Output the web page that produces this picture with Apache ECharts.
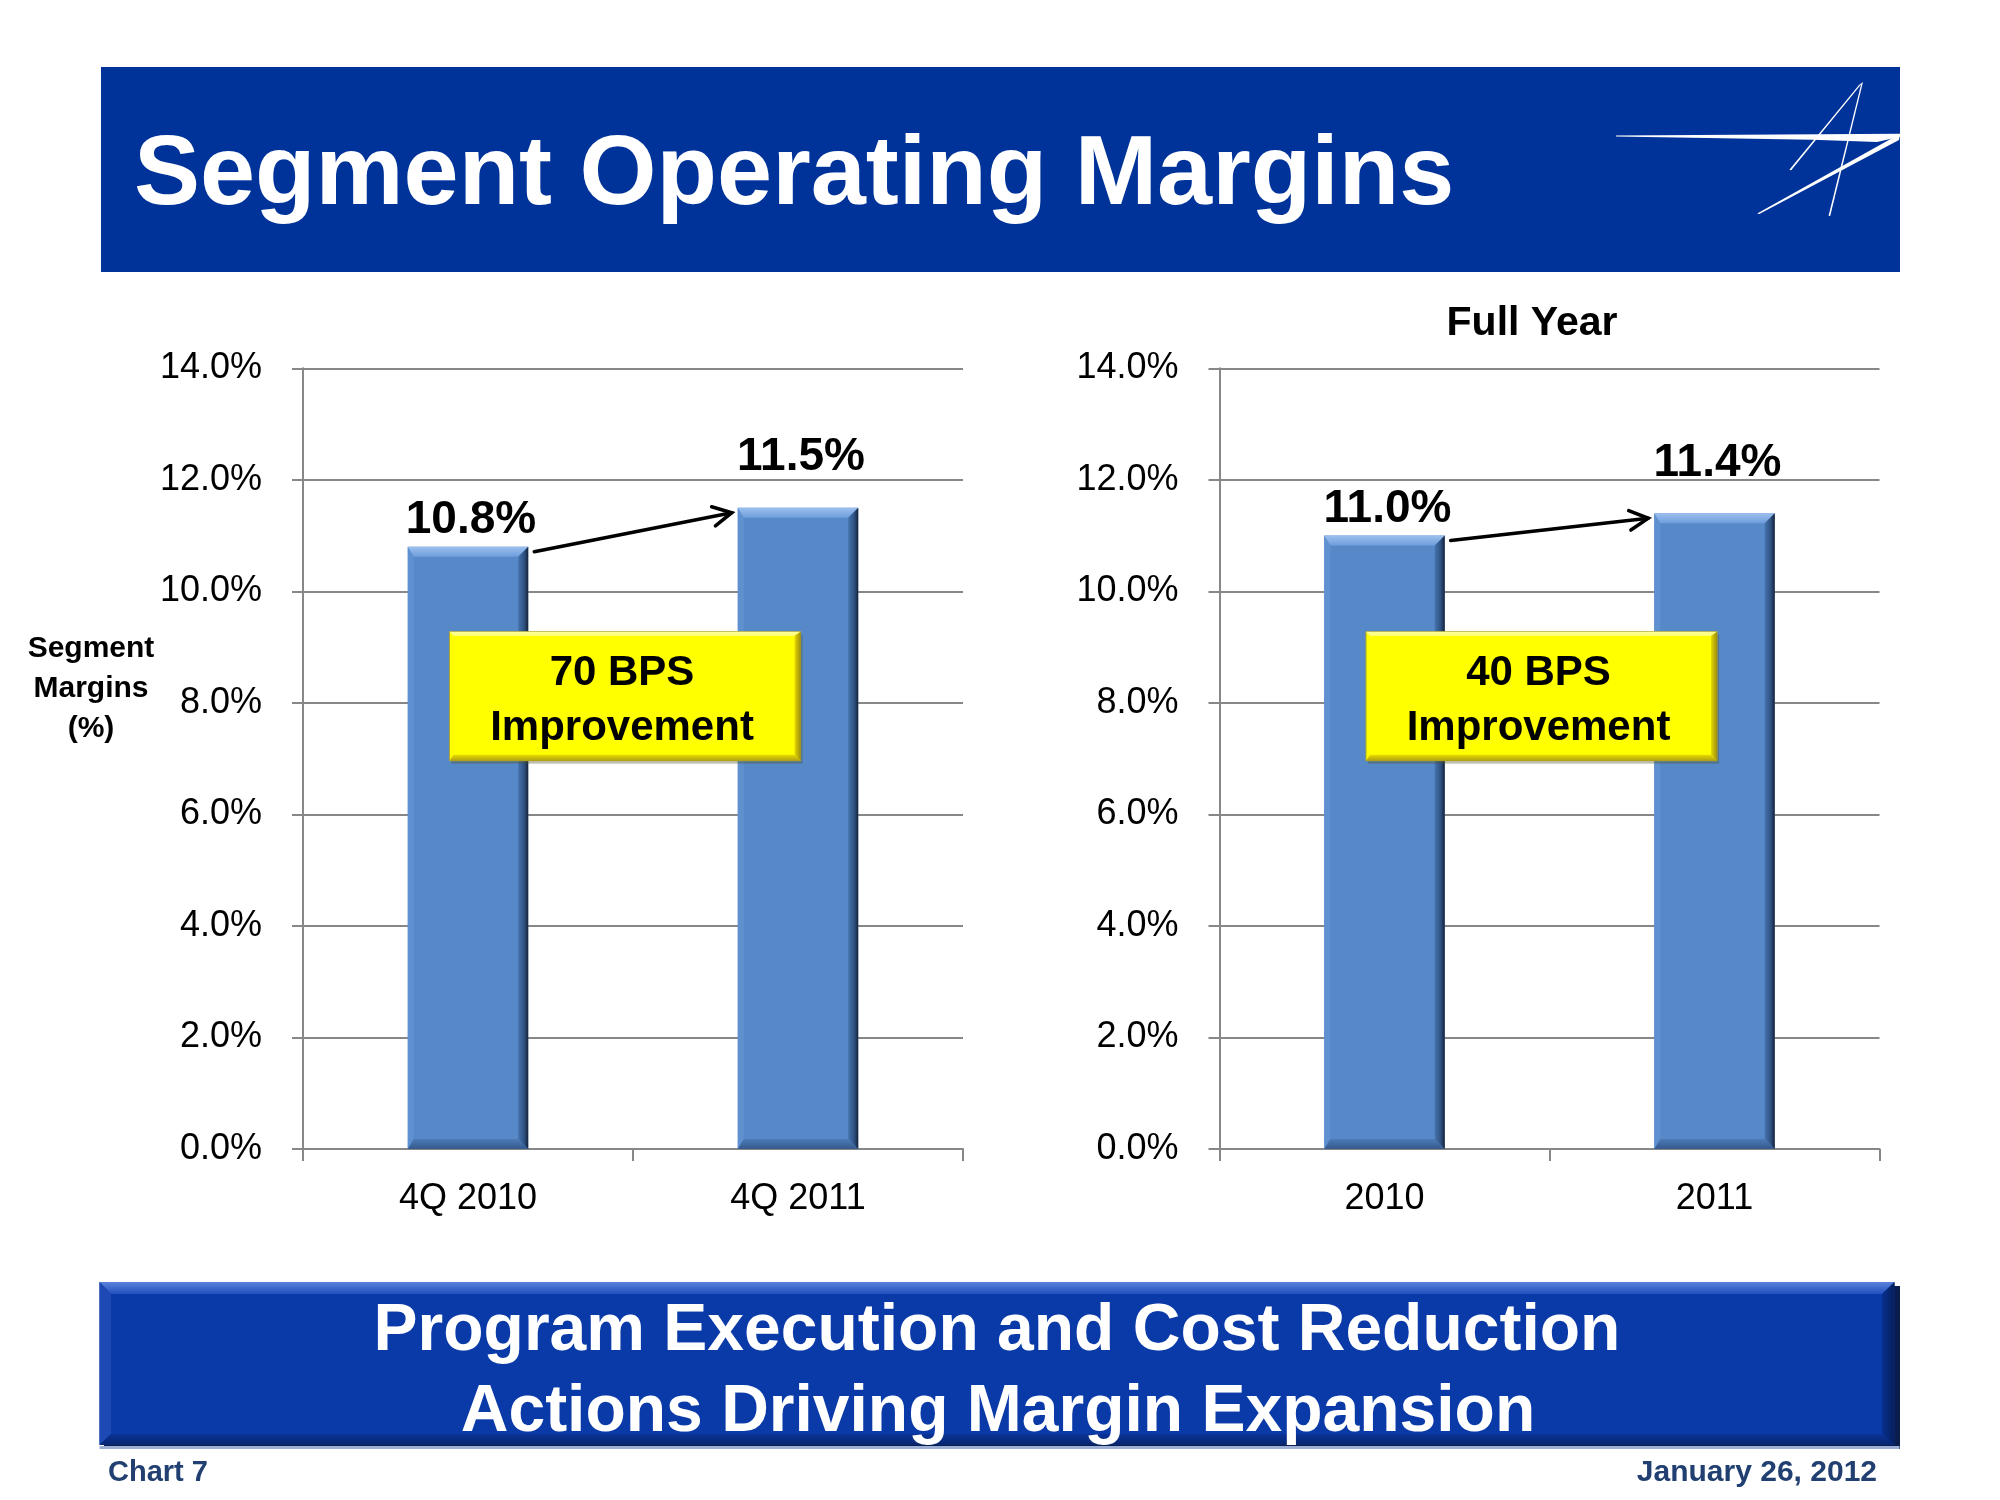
<!DOCTYPE html>
<html><head><meta charset="utf-8">
<script src="https://cdn.jsdelivr.net/npm/echarts@6/dist/echarts.min.js"></script>
<style>html,body{margin:0;padding:0;background:#fff}#c{width:2000px;height:1500px}</style>
</head><body><div id="c"></div>
<script>
// ---------------- data ----------------
const quarterCategories = ['4Q 2010', '4Q 2011'];
const quarterMargins = [10.8, 11.5];
const yearCategories = ['2010', '2011'];
const yearMargins = [11.0, 11.4];
const yAxisMax = 14;
const yAxisStep = 2;
const improvementNotes = ['70 BPS\nImprovement', '40 BPS\nImprovement'];
const panelTitles = ['', 'Full Year'];
const titleText = 'Segment Operating Margins';
const bannerLines = ['Program Execution and Cost Reduction', 'Actions Driving Margin Expansion'];
const footerLeft = 'Chart 7';
const footerRight = 'January 26, 2012';
const yAxisName = 'Segment\nMargins\n(%)';

// ---------------- style ----------------
const FONT = '"Liberation Sans", Arial, Helvetica, sans-serif';
const GRAY = '#878787';
const NOTE_LEVEL = 8.12;
const LG = echarts.graphic.LinearGradient;

function txt(x, y, text, size, weight, fill, align, lineHeight) {
  const st = {
    text: text, fontSize: size, fontWeight: weight, fontFamily: FONT, fill: fill,
    align: align, textAlign: align, verticalAlign: 'middle', textVerticalAlign: 'middle'
  };
  if (lineHeight) st.lineHeight = lineHeight;
  return { type: 'text', x: x, y: y, style: st };
}

function barItem(params, api) {
  const idx = api.value(0), v = api.value(1);
  const top = api.coord([idx, v]), base = api.coord([idx, 0]);
  const band = api.size([1, 0])[0];
  const w = band * 0.365;
  const l = top[0] - w / 2, r = top[0] + w / 2, t = top[1], b = base[1];
  const bv = 10;
  return {
    type: 'group',
    children: [
      { type: 'rect', shape: { x: l, y: t, width: w, height: b - t }, style: { fill: '#5789c9' } },
      { type: 'polygon', shape: { points: [[l, t], [l + bv * 0.6, t + bv], [l + bv * 0.6, b - bv], [l, b]] },
        style: { fill: '#5f90d0' } },
      { type: 'polygon', shape: { points: [[l, t], [r, t], [r - bv, t + bv], [l + bv * 0.6, t + bv]] },
        style: { fill: new LG(0, 0, 0, 1, [{ offset: 0, color: '#9cc0ee' }, { offset: 1, color: '#6e9ddc' }]) } },
      { type: 'polygon', shape: { points: [[l, b], [r, b], [r - bv, b - bv], [l + bv * 0.6, b - bv]] },
        style: { fill: new LG(0, 0, 0, 1, [{ offset: 0, color: '#4d7bb8' }, { offset: 1, color: '#35598c' }]) } },
      { type: 'polygon', shape: { points: [[r, t], [r, b], [r - bv, b - bv], [r - bv, t + bv]] },
        style: { fill: new LG(0, 0, 1, 0, [{ offset: 0, color: '#4673ad' }, { offset: 0.6, color: '#2f5282' }, { offset: 1, color: '#152238' }]) } },
      { type: 'text', style: {
          text: v.toFixed(1) + '%', x: top[0] + 3, y: t - (idx === 0 ? 3 : 27),
          fontSize: 46, fontWeight: 'bold', fontFamily: FONT, fill: '#000',
          align: 'center', textAlign: 'center', verticalAlign: 'bottom', textVerticalAlign: 'bottom' } }
    ]
  };
}

function arrowItem(params, api) {
  const p0 = api.coord([0, api.value(1)]), p1 = api.coord([1, api.value(2)]);
  const band = api.size([1, 0])[0];
  const hw = band * 0.365 / 2;
  const s = [p0[0] + hw + 6, p0[1] + 5], e = [p1[0] - hw - 6, p1[1] + 5];
  const ang = Math.atan2(e[1] - s[1], e[0] - s[0]);
  const L = 21, A = Math.PI / 6.5;
  const w1 = [e[0] - L * Math.cos(ang - A), e[1] - L * Math.sin(ang - A)];
  const w2 = [e[0] - L * Math.cos(ang + A), e[1] - L * Math.sin(ang + A)];
  const ls = { stroke: '#000', lineWidth: 3.5, lineCap: 'round' };
  return {
    type: 'group', children: [
      { type: 'line', shape: { x1: s[0], y1: s[1], x2: e[0], y2: e[1] }, style: ls },
      { type: 'polyline', shape: { points: [w1, e, w2] }, style: Object.assign({ fill: null, lineJoin: 'miter' }, ls) }
    ]
  };
}

function noteItem(text) {
  return function (params, api) {
    const p0 = api.coord([0, api.value(1)]);
    const band = api.size([1, 0])[0];
    const w = band * 1.064, h = 129;
    const cx = p0[0] + band / 2 - 8, cy = p0[1];
    const l = cx - w / 2, r = cx + w / 2, t = cy - h / 2, b = cy + h / 2;
    const bv = 6;
    return {
      type: 'group', children: [
        { type: 'rect', shape: { x: l + 2, y: t + 3, width: w, height: h }, style: { fill: 'rgba(80,80,40,0.35)' } },
        { type: 'rect', shape: { x: l, y: t, width: w, height: h }, style: { fill: '#ffff00', stroke: '#a59d3a', lineWidth: 1 } },
        { type: 'polygon', shape: { points: [[l, t], [r, t], [r - bv, t + 4], [l + 4, t + 4]] }, style: { fill: '#ffff8c' } },
        { type: 'polygon', shape: { points: [[r, t], [r, b], [r - bv, b - bv], [r - bv, t + 4]] },
          style: { fill: new LG(0, 0, 1, 0, [{ offset: 0, color: '#e6d800' }, { offset: 1, color: '#9e8f10' }]) } },
        { type: 'polygon', shape: { points: [[l, b], [r, b], [r - bv, b - bv], [l + 4, b - bv]] },
          style: { fill: new LG(0, 0, 0, 1, [{ offset: 0, color: '#e8dc00' }, { offset: 1, color: '#b0a010' }]) } },
        { type: 'text', style: {
            text: text, x: cx - 3, y: cy + 4.5, fontSize: 42, fontWeight: 'bold', fontFamily: FONT, fill: '#000',
            lineHeight: 55, align: 'center', textAlign: 'center', verticalAlign: 'middle', textVerticalAlign: 'middle' } }
      ]
    };
  };
}

// ---------------- panels ----------------
const panels = [
  { cats: quarterCategories, vals: quarterMargins, left: 303 },
  { cats: yearCategories, vals: yearMargins, left: 1219.5 }
];

const grids = [], xAxes = [], yAxes = [], series = [];
panels.forEach(function (p, i) {
  grids.push({ left: p.left, top: 368.3, width: 660, height: 780.7 });
  xAxes.push({
    type: 'category', gridIndex: i, data: p.cats, boundaryGap: true,
    axisLine: { show: true, lineStyle: { color: GRAY, width: 2 } },
    axisTick: { show: true, length: 12, lineStyle: { color: GRAY, width: 2 } },
    axisLabel: { fontSize: 36, color: '#000', fontFamily: FONT, margin: 32 },
    splitLine: { show: false }
  });
  yAxes.push({
    type: 'value', gridIndex: i, min: 0, max: yAxisMax, interval: yAxisStep,
    axisLine: { show: true, lineStyle: { color: GRAY, width: 2 } },
    axisTick: { show: true, length: 11, lineStyle: { color: GRAY, width: 2 } },
    axisLabel: { fontSize: 36, color: '#000', fontFamily: FONT, margin: 41, padding: [3, 0, 0, 0],
      formatter: function (v) { return v.toFixed(1) + '%'; } },
    splitLine: { show: true, lineStyle: { color: GRAY, width: 2 } }
  });
  series.push({
    type: 'custom', xAxisIndex: i, yAxisIndex: i, renderItem: barItem,
    encode: { x: 0, y: 1 },
    data: p.vals.map(function (v, k) { return [k, v]; }), z: 3
  });
  series.push({
    type: 'custom', xAxisIndex: i, yAxisIndex: i, renderItem: arrowItem,
    encode: { x: 0, y: [1, 2] },
    data: [[0, p.vals[0], p.vals[1]]], z: 4
  });
  series.push({
    type: 'custom', xAxisIndex: i, yAxisIndex: i, renderItem: noteItem(improvementNotes[i]),
    encode: { x: 0, y: 1 },
    data: [[0, NOTE_LEVEL]], z: 5
  });
});

// ---------------- decoration ----------------
const graphics = [
  // header
  { type: 'rect', shape: { x: 101, y: 67, width: 1799, height: 205 }, style: { fill: '#003399' }, z: 0 },
  txt(134, 177, titleText, 99, 'bold', '#fff', 'left'),
  // logo
  { type: 'polygon', shape: { points: [[1616, 135.6], [1900, 133.8], [1900, 136.8], [1877, 142], [1813, 139.7], [1616, 136.6]] }, style: { fill: '#fff' } },
  { type: 'polygon', shape: { points: [[1900, 133.8], [1899, 140], [1759.3, 213.9], [1757.2, 213.5]] }, style: { fill: '#fff' } },
  { type: 'polygon', shape: { points: [[1859, 85], [1863, 82], [1791.2, 170.2], [1789.4, 169.8]] }, style: { fill: '#fff' } },
  { type: 'polygon', shape: { points: [[1861.2, 84], [1863, 82], [1830.2, 216], [1828.6, 215.8]] }, style: { fill: '#fff' } },
  // axis name + panel titles
  txt(91, 689, yAxisName, 30, 'bold', '#000', 'center', 40),
  txt(1532, 323.5, panelTitles[1], 41, 'bold', '#000', 'center'),
  // footer banner
  { type: 'rect', shape: { x: 104, y: 1286, width: 1796, height: 163 }, style: { fill: '#0b1d4d' } },
  { type: 'rect', shape: { x: 99.5, y: 1282, width: 1795, height: 163 }, style: { fill: '#0a3aa8' } },
  { type: 'polygon', shape: { points: [[99.5, 1282], [1894.5, 1282], [1882, 1294], [111, 1294]] },
    style: { fill: new LG(0, 0, 0, 1, [{ offset: 0, color: '#5a82dc' }, { offset: 1, color: '#2250bd' }]) } },
  { type: 'polygon', shape: { points: [[99.5, 1282], [111, 1294], [111, 1434], [99.5, 1445]] }, style: { fill: '#1d49b4' } },
  { type: 'polygon', shape: { points: [[99.5, 1445], [1894.5, 1445], [1882, 1434], [111, 1434]] },
    style: { fill: new LG(0, 0, 0, 1, [{ offset: 0, color: '#0a3396' }, { offset: 1, color: '#072570' }]) } },
  { type: 'polygon', shape: { points: [[1894.5, 1282], [1894.5, 1445], [1882, 1434], [1882, 1294]] },
    style: { fill: new LG(0, 0, 1, 0, [{ offset: 0, color: '#08308f' }, { offset: 1, color: '#061f5c' }]) } },
  { type: 'rect', shape: { x: 99.5, y: 1446, width: 1800, height: 3 }, style: { fill: '#9aaed6' } },
  txt(997, 1331.5, bannerLines[0], 66, 'bold', '#fff', 'center'),
  txt(998, 1413, bannerLines[1], 66, 'bold', '#fff', 'center'),
  txt(108, 1473, footerLeft, 29, 'bold', '#213f70', 'left'),
  txt(1877, 1473, footerRight, 30, 'bold', '#213f70', 'right')
];

const chart = echarts.init(document.getElementById('c'), null, { renderer: 'canvas' });
chart.setOption({
  backgroundColor: '#ffffff',
  animation: false,
  grid: grids,
  xAxis: xAxes,
  yAxis: yAxes,
  series: series,
  graphic: { elements: graphics }
});
</script>
</body></html>
